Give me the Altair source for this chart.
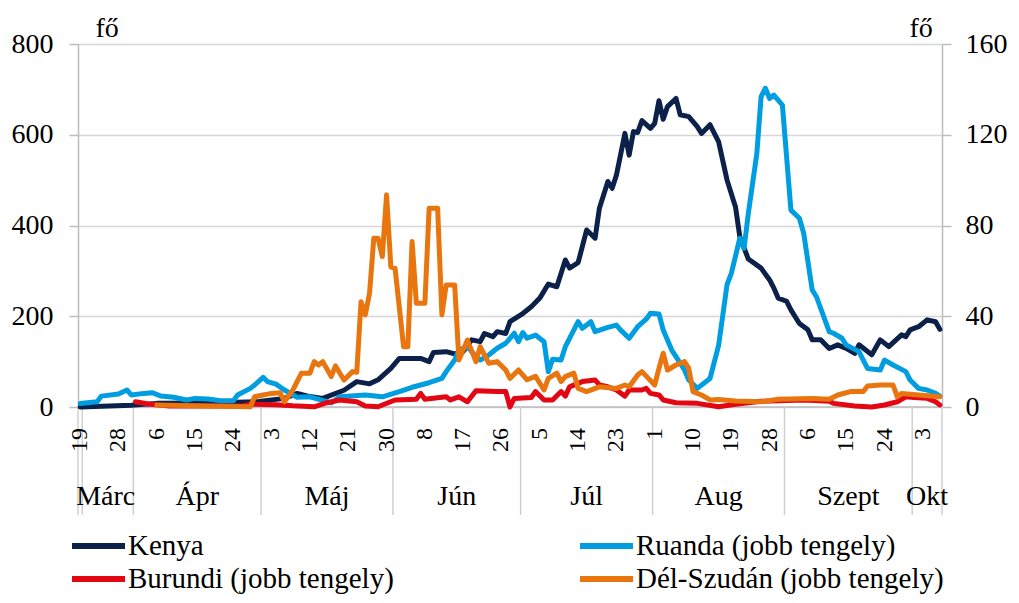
import altair as alt
import pandas as pd

SERIES = ["Kenya", "Ruanda (jobb tengely)", "Burundi (jobb tengely)", "Dél-Szudán (jobb tengely)"]
COLORS = ["#0b2149", "#009ee0", "#e30613", "#e8750e"]

# day index 0 = március 19.
KENYA_DAY = [0, 12, 18, 30, 42, 48, 51, 54, 57, 62, 65, 68, 70, 73, 75, 80, 82, 83, 86, 88, 90, 92, 94, 95, 97,
             98, 100, 101, 104, 106, 108, 110, 112, 114, 115, 117, 119, 121, 122, 124, 125, 126, 128, 129, 130,
             131, 132, 134, 135, 136, 137, 138, 140, 141, 143, 145, 146, 148, 150, 152, 154, 155, 157, 160, 162,
             163, 164, 166, 167, 169, 171, 172, 174, 176, 178, 180, 182, 183, 186, 188, 190, 193, 194, 195, 197,
             199, 201, 202]
KENYA_VAL = [0, 4, 8, 9, 12, 19, 30, 23, 19, 37, 56, 51, 60, 85, 107, 107, 100, 120, 122, 117, 122, 148, 144, 162, 155,
             166, 162, 188, 206, 221, 240, 271, 265, 324, 306, 318, 390, 372, 438, 497, 482, 511, 603, 555, 607,
             605, 631, 614, 625, 675, 634, 662, 680, 644, 640, 618, 603, 622, 585, 500, 440, 375, 326, 306, 280,
             262, 240, 233, 214, 184, 170, 148, 148, 129, 137, 129, 118, 137, 115, 148, 133, 159, 155, 170, 177,
             192, 188, 171]

RUANDA_DAY = [0, 4, 5, 9, 11, 12, 15, 17, 19, 22, 25, 27, 30, 33, 36, 37, 40, 41, 43, 44, 46, 48, 50, 51, 54, 59, 61,
              67, 71, 75, 78, 80, 82, 85, 86, 88, 89, 91, 93, 94, 96, 98, 100, 102, 103, 104, 105, 107, 109, 110,
              111, 113, 114, 117, 118, 120, 121, 124, 126, 127, 129, 131, 133, 134, 136, 137, 139, 140, 142, 143,
              145, 148, 150, 152, 153, 155, 156, 157, 159, 160, 161, 162, 163, 165, 167, 169, 170, 172, 173, 176,
              177, 179, 180, 183, 184, 185, 188, 189, 191, 194, 195, 197, 199, 201, 202]
RUANDA_VAL = [1.5, 2.3, 4.8, 5.7, 7.5, 5.3, 6.0, 6.3, 4.8, 4.3, 3.1, 3.8, 3.5, 2.8, 2.8, 5.3, 8.2, 9.7, 13.1, 11.2,
              10.1, 7.5, 5.3, 4.3, 4.5, 1.8, 4.5, 5.3, 4.5, 6.8, 8.7, 9.7, 10.7, 12.6, 15.6, 20.7, 25.1, 26.6, 22.2,
              20.7, 22.9, 25.9, 28.1, 32.5, 28.8, 32.8, 30.3, 31.7, 28.8, 15.6, 21.0, 20.7, 26.6, 37.6, 34.7, 37.6,
              33.2, 35.1, 36.1, 33.9, 30.3, 35.4, 38.7, 41.3, 41.0, 33.9, 25.1, 22.2, 16.3, 11.9, 8.2, 12.6, 27.0,
              54.0, 58.9, 74.4, 70.0, 85.4, 111.8, 136.8, 140.5, 136.0, 137.5, 133.1, 86.8, 83.2, 76.6, 51.6, 48.6,
              33.2, 32.5, 30.3, 27.3, 24.4, 20.7, 17.0, 16.3, 20.7, 18.5, 15.6, 11.9, 8.2, 7.5, 6.0, 4.8]

BURUNDI_DAY = [13, 16, 21, 38, 40, 46, 50, 55, 58, 61, 65, 67, 70, 74, 79, 80, 81, 86, 87, 89, 91, 93, 98, 100, 101,
               102, 106, 107, 109, 111, 113, 114, 115, 117, 118, 121, 122, 124, 126, 128, 129, 132, 133, 134, 136,
               137, 140, 145, 150, 154, 160, 170, 176, 177, 182, 186, 189, 192, 194, 196, 199, 201, 202]
BURUNDI_VAL = [2.3, 1.3, 0.4, 0.4, 1.3, 1.0, 0.5, 0.1, 1.9, 3.1, 2.3, 0.4, 0.1, 3.1, 3.4, 6.0, 3.4, 4.5, 3.1, 4.5,
               2.3, 7.2, 6.8, 6.8, 0.0, 3.8, 4.2, 6.8, 3.1, 3.1, 6.8, 4.8, 8.9, 10.4, 11.2, 11.9, 9.7, 8.9, 7.5, 4.8,
               7.5, 7.5, 8.2, 6.0, 5.3, 3.1, 1.9, 1.6, 0.1, 1.2, 2.5, 3.1, 2.5, 1.6, 0.4, 0.0, 0.9, 2.3, 4.5, 4.2,
               3.8, 2.3, 0.9]

DSZ_DAY = [18, 40, 41, 43, 45, 47, 48, 50, 52, 54, 55, 56, 57, 59, 60, 62, 64, 65, 66, 67, 68, 69, 70, 71, 72, 73,
           74, 76, 77, 78, 79, 81, 82, 84, 85, 86, 88, 89, 91, 93, 94, 96, 98, 100, 101, 103, 105, 107, 109, 110,
           112, 113, 114, 116, 117, 119, 122, 126, 128, 129, 131, 132, 135, 136, 137, 138, 140, 142, 143, 144, 146,
           148, 150, 154, 160, 164, 172, 176, 178, 181, 184, 185, 188, 191, 192, 193, 197, 202]
DSZ_VAL = [0.9, 0.1, 4.5, 5.3, 6.0, 6.3, 2.3, 7.5, 14.9, 14.9, 20.0, 18.5, 20.0, 13.4, 18.1, 11.9, 15.6, 15.3, 46.4,
           40.6, 50.1, 74.4, 74.4, 66.3, 93.5, 61.8, 61.1, 26.6, 26.6, 72.9, 45.7, 45.7, 87.6, 87.6, 40.6, 53.8,
           53.8, 20.7, 29.5, 20.0, 26.6, 19.3, 20.0, 16.3, 12.6, 16.3, 12.0, 13.5, 7.5, 12.6, 14.9, 11.2, 13.4,
           14.9, 8.2, 6.8, 8.9, 8.2, 9.7, 8.9, 14.1, 15.6, 9.7, 17.0, 23.7, 16.3, 18.5, 20.0, 17.0, 6.8, 5.3, 3.1,
           3.3, 2.6, 2.3, 3.4, 3.8, 3.4, 5.3, 6.8, 6.8, 9.3, 9.7, 9.7, 4.5, 6.0, 5.3, 4.5]

TICK_DAYS = [0, 9, 18, 27, 36, 45, 54, 63, 72, 81, 90, 99, 108, 117, 126, 135, 144, 153, 162, 171, 180, 189, 198]
TICK_LABELS = ["19", "28", "6", "15", "24", "3", "12", "21", "30", "8", "17", "26", "5", "14", "23", "1", "10",
               "19", "28", "6", "15", "24", "3"]
MONTHS = ["Márc", "Ápr", "Máj", "Jún", "Júl", "Aug", "Szept", "Okt"]
MONTH_BOUNDS = [-0.5, 12.5, 42.5, 73.5, 103.5, 134.5, 165.5, 195.5, 202.5]
EXTRA_SEPARATORS = [0.5]

LEFT_TICKS = [0, 200, 400, 600, 800]
RIGHT_TICKS = [0, 40, 80, 120, 160]

FONT = "Liberation Serif"
GRID = "#d6d6d6"
AXIS_C = "#bdbdbd"
LW = 5

W, H = 864, 363

kenya_df = pd.DataFrame({"day": KENYA_DAY, "value": KENYA_VAL, "series": SERIES[0]})
right_df = pd.concat([
    pd.DataFrame({"day": RUANDA_DAY, "value": RUANDA_VAL, "series": SERIES[1]}),
    pd.DataFrame({"day": BURUNDI_DAY, "value": BURUNDI_VAL, "series": SERIES[2]}),
    pd.DataFrame({"day": DSZ_DAY, "value": DSZ_VAL, "series": SERIES[3]}),
], ignore_index=True)

month_df = pd.DataFrame({
    "month": MONTHS,
    "center": [(MONTH_BOUNDS[i] + MONTH_BOUNDS[i + 1]) / 2 for i in range(len(MONTHS))],
})
sep_df = pd.DataFrame({"day": MONTH_BOUNDS + EXTRA_SEPARATORS})
tick_df = pd.DataFrame({"day": TICK_DAYS, "label": TICK_LABELS})

x_scale = alt.Scale(domain=[-0.5, 202.5], nice=False, zero=False)
color_scale = alt.Scale(domain=SERIES, range=COLORS)


def xq(field):
    return alt.X(field, type="quantitative", scale=x_scale, axis=None)


kenya = alt.Chart(kenya_df).mark_line(strokeWidth=LW, strokeJoin="round", strokeCap="round").encode(
    x=xq("day"),
    y=alt.Y("value:Q", scale=alt.Scale(domain=[0, 800], nice=False),
            axis=alt.Axis(values=LEFT_TICKS, title="fő", titleAngle=0, titleX=17, titleY=-8, titleAlign="left",
                          titleBaseline="alphabetic", titleFontSize=28, titleFontWeight="normal",
                          titleFont=FONT, titleColor="black", grid=True, gridColor=GRID, gridWidth=1.5,
                          domainColor=AXIS_C, domainWidth=1.5, tickColor=AXIS_C, tickSize=9, tickWidth=1.5,
                          labelFontSize=28, labelPadding=16, labelColor="black", labelFont=FONT)),
    color=alt.Color("series:N", scale=color_scale, legend=None),
)

right = alt.Chart(right_df).mark_line(strokeWidth=LW, strokeJoin="round", strokeCap="round").encode(
    x=xq("day"),
    y=alt.Y("value:Q", scale=alt.Scale(domain=[0, 160], nice=False),
            axis=alt.Axis(orient="right", values=RIGHT_TICKS, title="fő", titleAngle=0, titleX=-33, titleY=-8,
                          titleAlign="left", titleBaseline="alphabetic", titleFontSize=28,
                          titleFontWeight="normal", titleFont=FONT, titleColor="black", grid=False,
                          domainColor=AXIS_C, domainWidth=1.5, tickColor=AXIS_C, tickSize=9, tickWidth=1.5,
                          labelFontSize=28, labelPadding=14, labelColor="black", labelFont=FONT)),
    color=alt.Color("series:N", scale=color_scale, legend=None),
)

# x axis baseline
base = alt.Chart(pd.DataFrame({"day": [MONTH_BOUNDS[0]], "end": [MONTH_BOUNDS[-1]]})).mark_rule(
    color=AXIS_C, strokeWidth=1.5).encode(x=xq("day"), x2="end:Q", y=alt.value(H))

seps = alt.Chart(sep_df).mark_rule(color="#d0d0d0", strokeWidth=1.5).encode(
    x=xq("day"),
    y=alt.value(H),
    y2=alt.value(H + 108),
)

ticklabels = alt.Chart(tick_df).mark_text(fontSize=24, font=FONT, color="black", angle=270, align="right",
                                          baseline="middle").encode(
    x=xq("day"),
    y=alt.value(H + 21),
    text="label:N",
)

months = alt.Chart(month_df).mark_text(fontSize=28, font=FONT, color="black", baseline="alphabetic",
                                       align="center").encode(
    x=xq("center"),
    y=alt.value(H + 98),
    text="month:N",
)

# legend (two columns, two rows) drawn as line swatches + labels
legend_layers = []
for i, name in enumerate(SERIES):
    col, row = i % 2, i // 2
    x0 = -6 + col * 508
    yy = H + 139 + row * 33
    ldf = pd.DataFrame({"series": [name]})
    legend_layers.append(
        alt.Chart(ldf).mark_rule(strokeWidth=6).encode(
            x=alt.value(x0), x2=alt.value(x0 + 53), y=alt.value(yy),
            color=alt.Color("series:N", scale=color_scale, legend=None),
        )
    )
    legend_layers.append(
        alt.Chart(ldf).mark_text(fontSize=29, font=FONT, color="black", align="left", baseline="middle").encode(
            x=alt.value(x0 + 56), y=alt.value(yy), text="series:N",
        )
    )

chart = alt.layer(base, seps, ticklabels, months, kenya, right, *legend_layers).resolve_scale(
    y="independent"
).properties(
    width=W, height=H,
    padding={"left": 70, "top": 36, "right": 69, "bottom": 188},
    autosize=alt.AutoSizeParams(type="none"),
).configure_view(stroke=None).configure(font=FONT)

chart.save("out.html", embed_options={"renderer": "svg", "actions": False})
